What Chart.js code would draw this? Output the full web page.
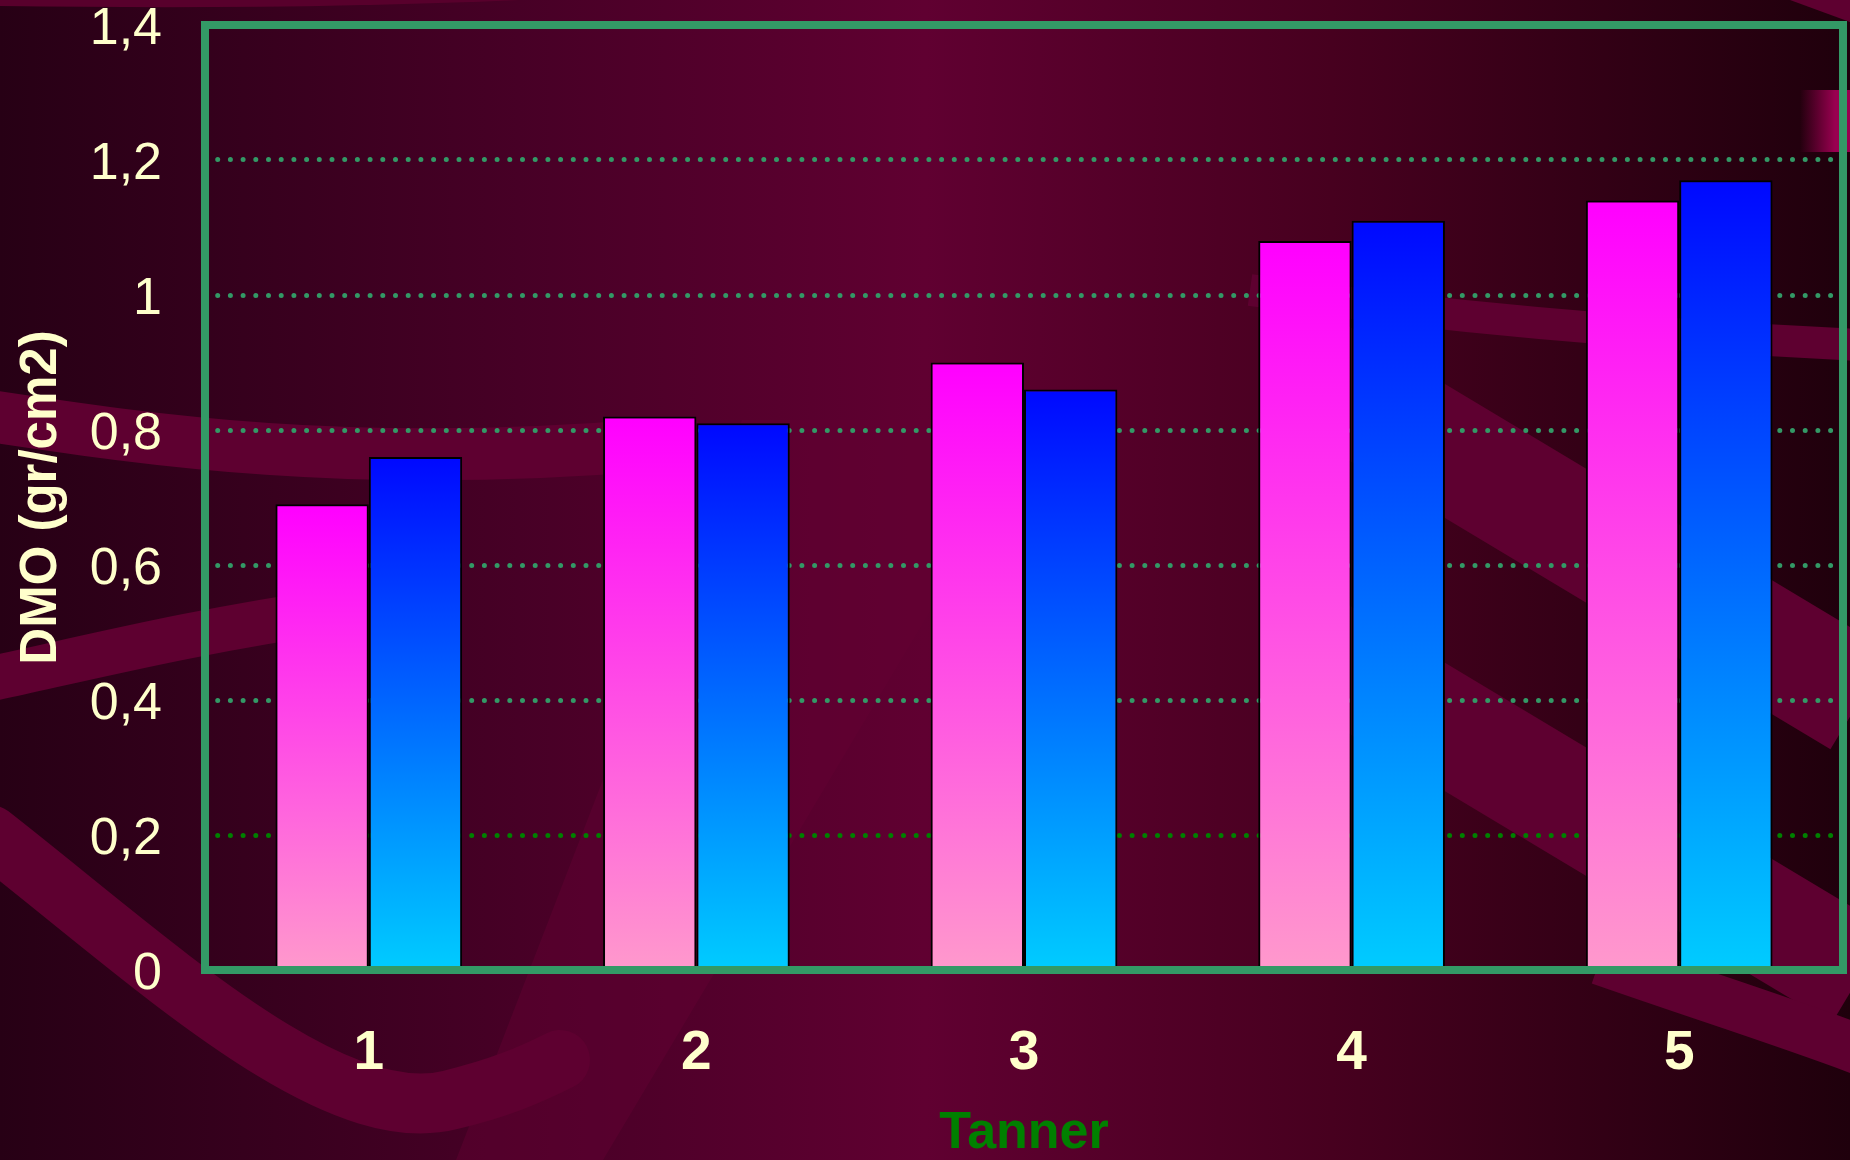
<!DOCTYPE html>
<html>
<head>
<meta charset="utf-8">
<script src="https://cdn.jsdelivr.net/npm/chart.js@4.4.0/dist/chart.umd.min.js"></script>
<style>
  html, body { margin: 0; padding: 0; background: #270015; overflow: hidden; }
  #wrap { width: 1850px; height: 1160px; position: relative; }
</style>
</head>
<body>
<div id="wrap"><canvas id="dmoChart"></canvas></div>
<script>
// DATA
const tannerStages = ["1", "2", "3", "4", "5"];
const pinkSeries = [0.69, 0.82, 0.90, 1.08, 1.14];
const blueSeries = [0.76, 0.81, 0.86, 1.11, 1.17];
const yTickLabels = ["0", "0,2", "0,4", "0,6", "0,8", "1", "1,2", "1,4"];

const cream = "#FFFFCC";
const frameGreen = "#339966";

// vertical gradient for one bar, from its top down to zero
function barGradient(c, topColor, bottomColor) {
  const chart = c.chart;
  if (c.type !== "data" || !chart.scales.y) return topColor;
  const y = chart.scales.y;
  const top = y.getPixelForValue(c.raw);
  const bottom = y.getPixelForValue(0);
  if (!isFinite(top) || !isFinite(bottom) || top === bottom) return topColor;
  const g = chart.ctx.createLinearGradient(0, top, 0, bottom);
  g.addColorStop(0, topColor);
  g.addColorStop(1, bottomColor);
  return g;
}

function band(ctx, width, pts, cap) {
  ctx.lineWidth = width;
  ctx.lineCap = cap || "butt";
  ctx.beginPath();
  ctx.moveTo(pts[0], pts[1]);
  for (let i = 2; i < pts.length; i += 6) {
    ctx.bezierCurveTo(pts[i], pts[i + 1], pts[i + 2], pts[i + 3], pts[i + 4], pts[i + 5]);
  }
  ctx.stroke();
}

// slide background with the wavy bands
const slideBackground = {
  id: "slideBackground",
  beforeDraw(chart) {
    const { ctx, width, height } = chart;
    ctx.save();
    const g = ctx.createLinearGradient(0, 0, width, 0);
    g.addColorStop(0, "#270015");
    g.addColorStop(0.28, "#470026");
    g.addColorStop(0.5, "#600031");
    g.addColorStop(0.72, "#47001f");
    g.addColorStop(1, "#1f000c");
    ctx.fillStyle = g;
    ctx.fillRect(0, 0, width, height);

    // faint lighter wedge in the middle
    ctx.fillStyle = "rgba(100,0,52,0.45)";
    ctx.beginPath();
    ctx.moveTo(742, 420);
    ctx.lineTo(1044, 420);
    ctx.lineTo(603, 1160);
    ctx.lineTo(456, 1160);
    ctx.closePath();
    ctx.fill();

    ctx.strokeStyle = "#5e0030";
    band(ctx, 52, [-10, 416, 150, 440, 350, 470, 650, 445]);
    band(ctx, 45, [-10, 679, 100, 655, 200, 630, 340, 610]);
    band(ctx, 60, [-10, 835, 150, 960, 330, 1130, 450, 1100, 500, 1088, 530, 1075, 560, 1060], "round");
    band(ctx, 32, [1250, 290, 1450, 318, 1650, 335, 1860, 345]);
    band(ctx, 115, [1300, 364, 1480, 472, 1680, 592, 1860, 700]);
    band(ctx, 110, [1300, 640, 1480, 748, 1680, 868, 1860, 976]);
    band(ctx, 50, [1600, 960, 1700, 995, 1780, 1020, 1860, 1050]);

    // top corners
    ctx.fillStyle = "#58002c";
    ctx.beginPath();
    ctx.moveTo(0, 0);
    ctx.lineTo(520, 0);
    ctx.quadraticCurveTo(300, 10, 0, 6);
    ctx.closePath();
    ctx.fill();
    ctx.fillStyle = "#5e0030";
    ctx.beginPath();
    ctx.moveTo(1790, 0);
    ctx.lineTo(1850, 0);
    ctx.lineTo(1850, 22);
    ctx.closePath();
    ctx.fill();

    const pg = ctx.createLinearGradient(1800, 0, 1835, 0);
    pg.addColorStop(0, "rgba(153,0,80,0)");
    pg.addColorStop(1, "#990050");
    ctx.fillStyle = pg;
    ctx.fillRect(1800, 90, 50, 62);
    ctx.restore();

    // round caps make the dotted grid
    ctx.lineCap = "round";
  },
  afterDatasetsDraw(chart) {
    const { ctx, chartArea: ca } = chart;
    ctx.save();
    ctx.strokeStyle = frameGreen;
    ctx.lineWidth = 8;
    ctx.strokeRect(ca.left, ca.top, ca.right - ca.left, ca.bottom - ca.top);
    ctx.restore();
  },
};

const ctx = document.getElementById("dmoChart").getContext("2d");

const dmoChart = new Chart(ctx, {
  type: "bar",
  data: {
    labels: tannerStages,
    datasets: [
      {
        label: "Serie 1",
        data: pinkSeries,
        backgroundColor: (c) => barGradient(c, "#FF00FF", "#FF99CC"),
        borderColor: "#000000",
        borderWidth: 2,
      },
      {
        label: "Serie 2",
        data: blueSeries,
        backgroundColor: (c) => barGradient(c, "#0008FF", "#00CCFF"),
        borderColor: "#000000",
        borderWidth: 2,
      },
    ],
  },
  options: {
    responsive: true,
    maintainAspectRatio: false,
    devicePixelRatio: 1,
    animation: false,
    categoryPercentage: 0.57,
    barPercentage: 1.0,
    layout: { padding: { left: 0, right: 7, top: 25, bottom: 0 } },
    plugins: {
      legend: { display: false },
      tooltip: { enabled: false },
    },
    scales: {
      x: {
        grid: { display: false, drawTicks: false },
        border: { display: false },
        ticks: {
          color: cream,
          padding: 56,
          font: { family: "'Liberation Sans', Arial, sans-serif", size: 55, weight: "bold", lineHeight: 1 },
        },
        title: {
          display: true,
          text: "Tanner",
          color: "#008000",
          padding: { top: 0, bottom: 0 },
          font: { family: "'Liberation Sans', Arial, sans-serif", size: 52, weight: "bold", lineHeight: 1 },
        },
        afterFit: (s) => { s.height = 190; },
      },
      y: {
        min: 0,
        max: 1.4,
        ticks: {
          stepSize: 0.2,
          color: cream,
          padding: 43,
          labelOffset: 5,
          font: { family: "'Liberation Sans', Arial, sans-serif", size: 52, lineHeight: 1 },
          callback: (v, i) => yTickLabels[i],
        },
        grid: {
          drawTicks: false,
          lineWidth: 5,
          color: (c) => (c.tick && Math.abs(c.tick.value - 0.2) < 1e-6 ? "#008000" : frameGreen),
        },
        border: { display: false, dash: [0, 12.7] },
        title: {
          display: true,
          text: "DMO (gr/cm2)",
          color: cream,
          padding: { top: 16, bottom: 0 },
          font: { family: "'Liberation Sans', Arial, sans-serif", size: 51, weight: "bold", lineHeight: 1 },
        },
        afterFit: (s) => {
          s.width = 205;
          // tick padding would otherwise push the plot down
          s.paddingTop = 20;
          s.paddingBottom = 20;
        },
      },
    },
  },
  plugins: [slideBackground],
});
</script>
</body>
</html>
